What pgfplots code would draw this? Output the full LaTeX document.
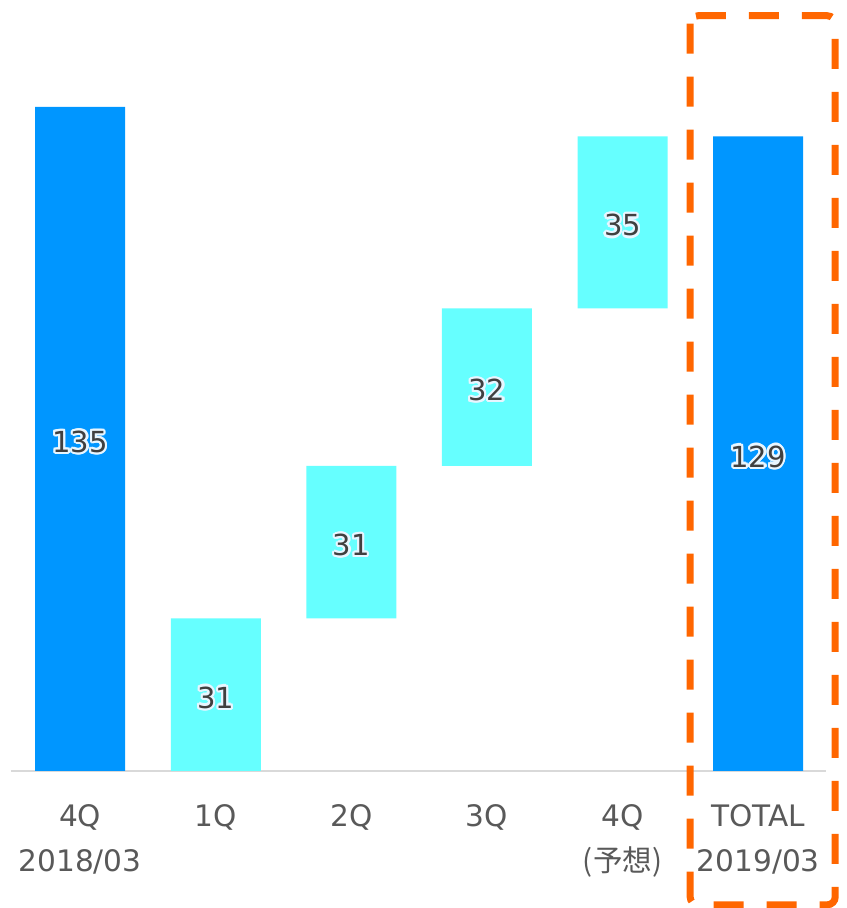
\documentclass[border=0pt]{standalone}
\usepackage{fontspec}
\setmainfont{DejaVu Sans}
\newfontfamily\jp{Noto Sans CJK JP}
\usepackage{pgfplots}
\pgfplotsset{compat=1.18}
\usepackage{contour}
\contourlength{1.1pt}
\contournumber{16}
\definecolor{dblue}{HTML}{0096FF}
\definecolor{lcyan}{HTML}{66FFFF}
\definecolor{tickgray}{HTML}{595959}
\definecolor{lblgray}{HTML}{404040}
\definecolor{glow}{HTML}{E8F6FF}
\definecolor{frameorange}{HTML}{FF6600}
\definecolor{axgray}{HTML}{D9D9D9}
\pgfplotsset{common/.style={scale only axis, width=407.5pt, height=385.5pt,
  xmin=-0.51, xmax=5.5, ymin=0, ymax=156.7, at={(5.5pt,68.5pt)}, anchor=south west}}
\begin{document}
\begin{tikzpicture}
\useasboundingbox (0,0) rectangle (423pt,454pt);
\begin{axis}[common, ybar stacked, bar width=45pt,
  axis x line=bottom, axis y line=none,
  x axis line style={draw=axgray, line width=1pt, -},
  xtick={0,1,2,3,4,5},
  xticklabels={{4Q\\2018/03},1Q,2Q,3Q,{4Q\\{\jp (予想)}},{TOTAL\\2019/03}},
  major tick length=0pt, ytick=\empty,
  xticklabel style={align=center, font=\fontsize{14.8}{22.5}\selectfont, text=tickgray, yshift=-13pt},
  clip=false]
\addplot[draw=none, fill=none] coordinates {(0,0)(1,0)(2,31)(3,62)(4,94)(5,0)};
\addplot[draw=none, fill=dblue] coordinates {(0,135)(1,0)(2,0)(3,0)(4,0)(5,129)};
\addplot[draw=none, fill=lcyan] coordinates {(0,0)(1,31)(2,31)(3,32)(4,35)(5,0)};
\draw[frameorange, line width=3.5pt, dash pattern=on 15pt off 11.5pt, rounded corners=4pt]
  (axis cs:4.498,153.5) rectangle (axis cs:5.568,-27.2);
\end{axis}
\begin{axis}[common, hide axis, clip=false]
\addplot[draw=none, mark=none, nodes near coords={\contour{glow}{\pgfplotspointmeta}},
  point meta=explicit symbolic,
  every node near coord/.append style={anchor=center, yshift=-2pt, font=\fontsize{14.5}{17}\selectfont, text=lblgray}]
  table[meta=lbl] {
x y lbl
0 67.5 135
1 15.5 31
2 46.5 31
3 78 32
4 111.5 35
5 64.5 129
};
\end{axis}
\end{tikzpicture}
\end{document}
